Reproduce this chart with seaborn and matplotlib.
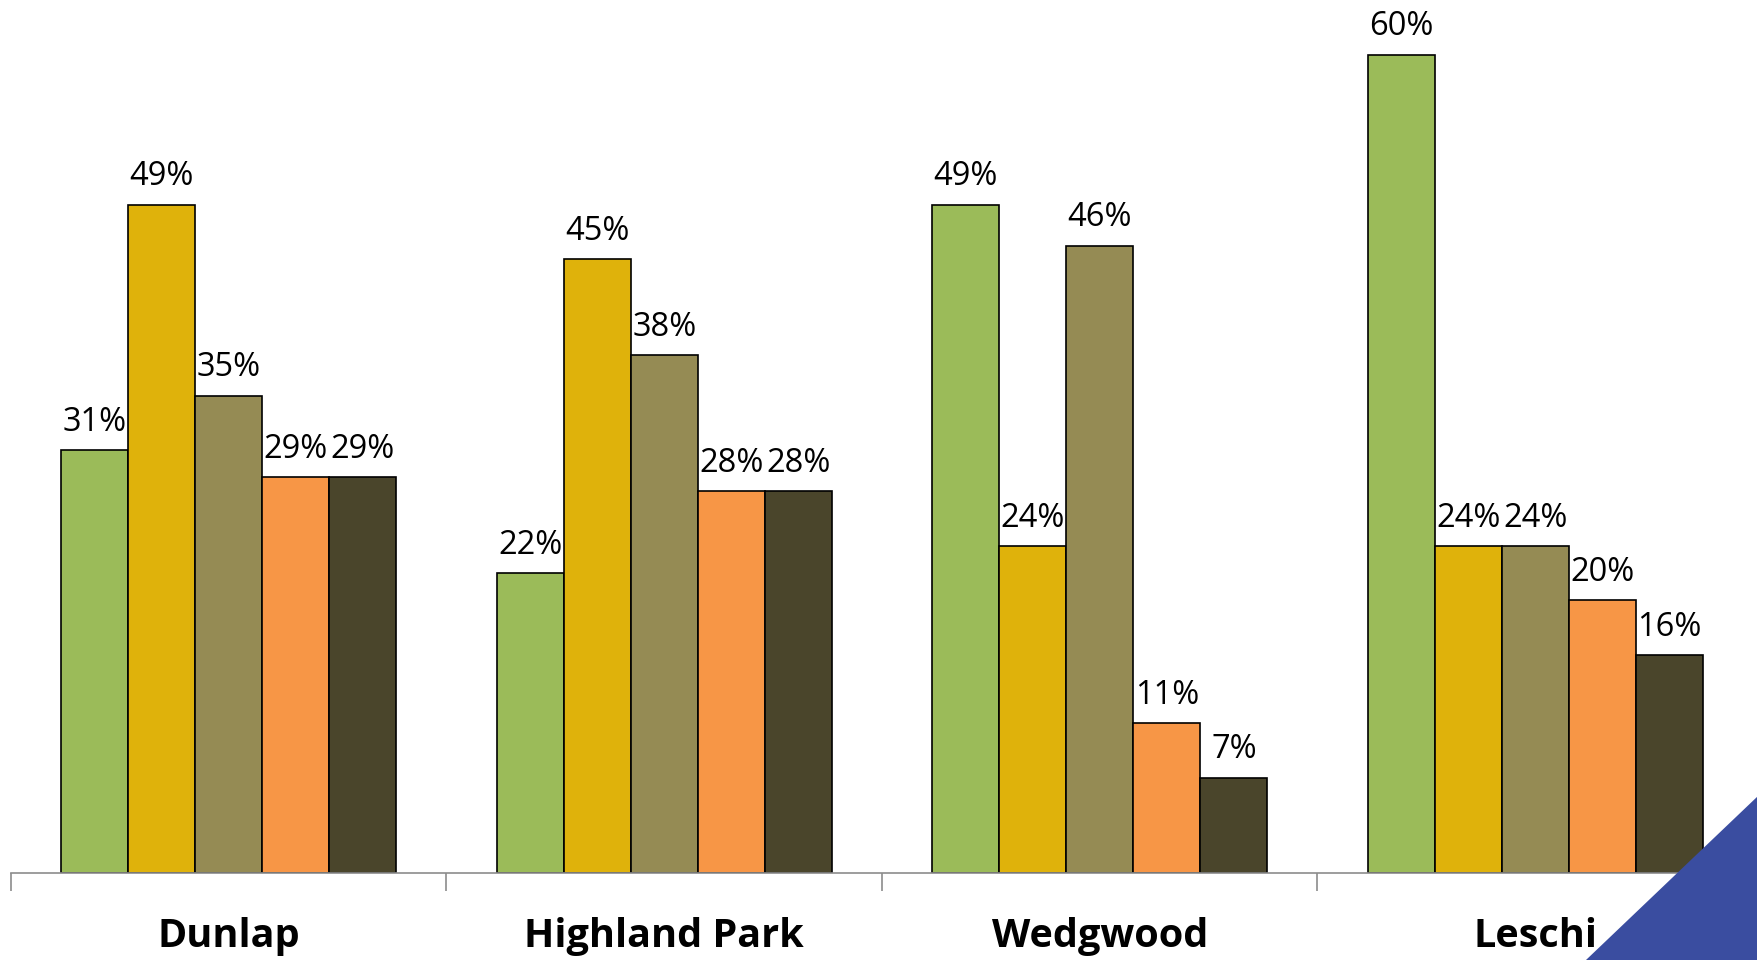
import matplotlib
matplotlib.use("Agg")
import matplotlib.pyplot as plt
import seaborn as sns
import pandas as pd
from matplotlib.patches import Polygon

categories = ["Dunlap", "Highland Park", "Wedgwood", "Leschi"]
series = ["S1", "S2", "S3", "S4", "S5"]
s1 = [0.31, 0.22, 0.49, 0.60]
s2 = [0.49, 0.45, 0.24, 0.24]
s3 = [0.35, 0.38, 0.46, 0.24]
s4 = [0.29, 0.28, 0.11, 0.20]
s5 = [0.29, 0.28, 0.07, 0.16]
colors = ["#9BBB59", "#DFB20B", "#958B54", "#F79646", "#4A452B"]

rows = []
for name, vals in zip(series, [s1, s2, s3, s4, s5]):
    for c, v in zip(categories, vals):
        rows.append({"cat": c, "series": name, "value": v})
df = pd.DataFrame(rows)

sns.set_style("white")
plt.rcParams["font.family"] = ["Open Sans", "DejaVu Sans"]

W, H = 1758, 960
fig = plt.figure(figsize=(W / 100, H / 100), dpi=100)
ax = fig.add_axes([11 / W, (H - 873) / H, (1753 - 11) / W, 873 / H])

sns.barplot(data=df, x="cat", y="value", hue="series", palette=colors,
            order=categories, hue_order=series, width=0.77, ax=ax,
            edgecolor="black", linewidth=1.2, saturation=1, legend=False,
            errorbar=None)

for cont in ax.containers:
    ax.bar_label(cont, labels=[f"{round(b.get_height()*100)}%" for b in cont],
                 padding=8, fontsize=23.5, color="black")

ax.set_ylim(0, 0.64)
ax.set_xlim(-0.5, 3.5)
ax.set_xlabel("")
ax.set_ylabel("")
ax.set_yticks([])
ax.set_xticks([-0.5, 0.5, 1.5, 2.5, 3.5])
ax.set_xticklabels([])
ax.tick_params(axis="x", which="major", length=13, color="#8C8C8C", width=1.2, direction="out", bottom=True)
ax.set_xticks([0, 1, 2, 3], minor=True)
ax.set_xticklabels(categories, minor=True, fontsize=28.5, fontweight="bold", color="black")
ax.tick_params(axis="x", which="minor", length=0, pad=32, labelcolor="black")
for s in ["top", "right", "left"]:
    ax.spines[s].set_visible(False)
ax.spines["bottom"].set_color("#8C8C8C")
ax.spines["bottom"].set_linewidth(1.2)

tri = Polygon([[1758 / W, 1 - 796 / H], [1758 / W, 0], [1586 / W, 0]],
              closed=True, transform=fig.transFigure, facecolor="#3A4DA0",
              edgecolor="none", zorder=10)
fig.patches.append(tri)

fig.savefig("out.png", dpi=100)
